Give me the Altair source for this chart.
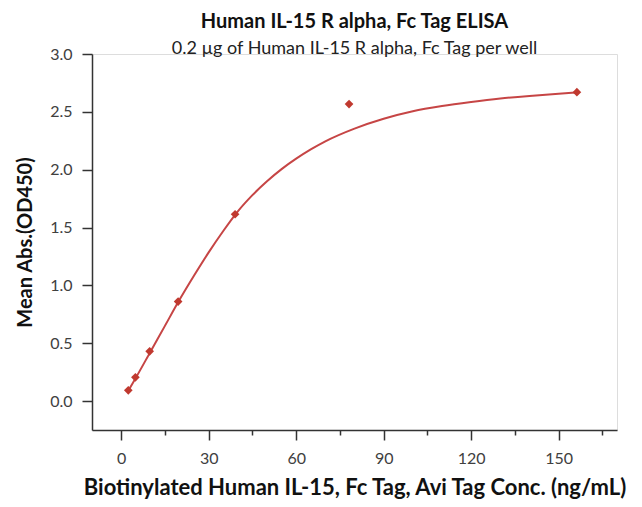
import altair as alt
import pandas as pd

# Measured points
conc = [2.44, 4.88, 9.77, 19.53, 39.06, 78.13, 156.25]
od450 = [0.093, 0.205, 0.43, 0.86, 1.615, 2.567, 2.67]

# Fitted curve
curve_x = [2.44, 5, 10, 15, 20, 25, 30, 35, 40, 45, 50, 55, 60, 65, 70, 80, 90, 100, 110, 120, 130, 140, 150, 156.25]
curve_y = [0.09, 0.20, 0.425, 0.65, 0.875, 1.085, 1.285, 1.47, 1.64, 1.78, 1.90, 2.005, 2.095, 2.175, 2.245, 2.355, 2.44, 2.505, 2.55, 2.585, 2.615, 2.638, 2.657, 2.667]

x_ticks = [0, 15, 30, 45, 60, 75, 90, 105, 120, 135, 150, 165]
y_ticks = [0, 0.25, 0.5, 0.75, 1.0, 1.25, 1.5, 1.75, 2.0, 2.25, 2.5, 2.75, 3.0]

pts = pd.DataFrame({"conc": conc, "od": od450})
crv = pd.DataFrame({"conc": curve_x, "od": curve_y})

RED = "#c0392f"
LINE = "#c64545"
FONT = "Lato"

x_major = "datum.value % 30 === 0"
y_major = "abs(datum.value*2 - round(datum.value*2)) < 0.001"

x_axis = alt.Axis(
    values=x_ticks,
    title="Biotinylated Human IL-15, Fc Tag, Avi Tag Conc. (ng/mL)",
    labelExpr=f"{x_major} ? datum.label : ''",
    tickSize={"condition": {"test": x_major, "value": 10}, "value": 5},
    grid=False, domainColor="#333333", domainWidth=1.5,
    tickColor="#333333", tickWidth=1.5,
    labelFont=FONT, labelFontSize=16, labelColor="#404040", labelPadding=10,
    titleFont=FONT, titleFontSize=22, titleFontWeight="bold", titleColor="#111111",
    titlePadding=11, labelOverlap=False, labelFlush=False,
)
y_axis = alt.Axis(
    values=y_ticks,
    title="Mean Abs.(OD450)",
    labelExpr=f"{y_major} ? format(datum.value, '.1f') : ''",
    tickSize={"condition": {"test": y_major, "value": 10}, "value": 6},
    grid=False, domainColor="#333333", domainWidth=1.5,
    tickColor="#333333", tickWidth=1.5,
    labelFont=FONT, labelFontSize=16, labelColor="#404040", labelPadding=10,
    titleFont=FONT, titleFontSize=20, titleFontWeight="bold", titleColor="#111111",
    titlePadding=14, labelOverlap=False, labelFlush=False,
)

xs = alt.Scale(domain=[-10, 170], nice=False, zero=False)
ys = alt.Scale(domain=[-0.25, 3.0], nice=False, zero=False)

line = alt.Chart(crv).mark_line(color=LINE, strokeWidth=2, interpolate="monotone").encode(
    x=alt.X("conc:Q", scale=xs, axis=x_axis),
    y=alt.Y("od:Q", scale=ys, axis=y_axis),
)
points = alt.Chart(pts).mark_point(shape="diamond", filled=True, color=RED, size=75, opacity=1).encode(
    x=alt.X("conc:Q", scale=xs),
    y=alt.Y("od:Q", scale=ys),
)

chart = (line + points).properties(
    width=525,
    height=376,
    autosize=alt.AutoSizeParams(type="none"),
    padding={"left": 84, "top": 46, "right": 17, "bottom": 76},
    title=alt.TitleParams(
        text="Human IL-15 R alpha, Fc Tag ELISA",
        subtitle="0.2 µg of Human IL-15 R alpha, Fc Tag per well",
        font=FONT, fontSize=20, fontWeight="bold", color="#111111",
        subtitleFont=FONT, subtitleFontSize=18, subtitleColor="#222222",
        subtitlePadding=8, anchor="middle", offset=-12,
    ),
).configure_view(stroke=None).configure(background="white")

chart.save("out.html", embed_options={"renderer": "svg", "actions": False})
